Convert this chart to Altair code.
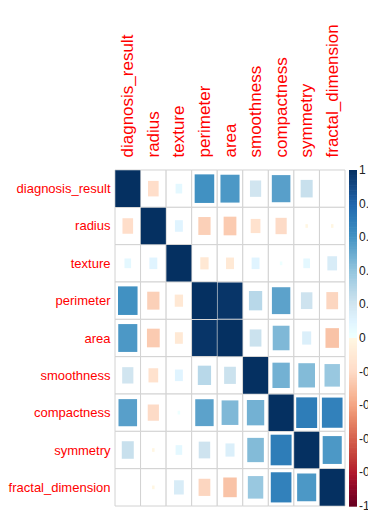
import altair as alt
import pandas as pd

FONT = "Liberation Sans"

variables = [
    "diagnosis_result", "radius", "texture", "perimeter", "area",
    "smoothness", "compactness", "symmetry", "fractal_dimension",
]

# Correlation matrix, one row per variable
diagnosis_result = [1.00, -0.18, 0.07, 0.61, 0.58, 0.20, 0.55, 0.23, 0.00]
radius = [-0.18, 1.00, 0.10, -0.24, -0.26, -0.15, -0.20, -0.01, -0.01]
texture = [0.07, 0.10, 1.00, -0.11, -0.10, 0.10, 0.01, 0.07, 0.15]
perimeter = [0.61, -0.24, -0.11, 1.00, 0.98, 0.28, 0.54, 0.21, -0.22]
area = [0.58, -0.26, -0.10, 0.98, 1.00, 0.22, 0.45, 0.13, -0.29]
smoothness = [0.20, -0.15, 0.10, 0.28, 0.22, 1.00, 0.48, 0.44, 0.38]
compactness = [0.55, -0.20, 0.01, 0.54, 0.45, 0.48, 1.00, 0.70, 0.68]
symmetry = [0.23, -0.01, 0.07, 0.21, 0.13, 0.44, 0.70, 1.00, 0.58]
fractal_dimension = [0.00, -0.01, 0.15, -0.22, -0.29, 0.38, 0.68, 0.58, 1.00]

matrix = [diagnosis_result, radius, texture, perimeter, area,
          smoothness, compactness, symmetry, fractal_dimension]

# Colour bar ticks
bar_values = [1, 0.8, 0.6, 0.4, 0.2, 0, -0.2, -0.4, -0.6, -0.8, -1]
bar_labels = ["1", "0.8", "0.6", "0.4", "0.2", "0", "-0.2", "-0.4", "-0.6", "-0.8", "-1"]

# RdBu diverging palette (red = -1, blue = +1)
palette = ["#67001F", "#B2182B", "#D6604D", "#F4A582", "#FDDBC7", "#FFFFFF",
           "#D1E5F0", "#92C5DE", "#4393C3", "#2166AC", "#053061"]
palette_stops = [-1, -0.8, -0.6, -0.4, -0.2, 0, 0.2, 0.4, 0.6, 0.8, 1]

records = []
for i, row in enumerate(matrix):
    for j, r in enumerate(row):
        records.append({"i": i, "j": j, "r": r})
cells = pd.DataFrame(records)
ticks = pd.DataFrame({"v": bar_values, "lab": bar_labels})

n = len(variables)
names_js = "[" + ",".join("'%s'" % v for v in variables) + "]"

xs = alt.Scale(domain=[0, 9.9], nice=False, zero=False)
ys = alt.Scale(domain=[-0.214, 9.08], nice=False, zero=False, reverse=True)
cs = alt.Scale(domain=palette_stops, range=palette, type="linear", clamp=True)

centers = [k + 0.5 for k in range(n)]

x_axis = alt.Axis(
    orient="top", values=centers, labelExpr=names_js + "[floor(datum.value)]",
    labelAngle=-90, labelColor="#FF0000", labelFont=FONT, labelFontSize=17,
    labelPadding=5, ticks=False, domain=False, grid=False, title=None,
    labelOverlap=False, labelFlush=False,
)
y_axis = alt.Axis(
    orient="left", values=centers, labelExpr=names_js + "[floor(datum.value)]",
    labelColor="#FF0000", labelFont=FONT, labelFontSize=13, labelPadding=5,
    ticks=False, domain=False, grid=False, title=None,
    labelOverlap=False, labelFlush=False,
)

X0 = alt.X("x0:Q", scale=xs, axis=x_axis)
Y0 = alt.Y("y0:Q", scale=ys, axis=y_axis)

# Cell grid
grid = alt.Chart(cells).transform_calculate(
    x0="datum.j", x1="datum.j + 1", y0="datum.i", y1="datum.i + 1"
).mark_rect(fill="white", stroke="#d2d2d2", strokeWidth=1).encode(
    x=X0, x2="x1:Q", y=Y0, y2="y1:Q",
)

# Squares whose area follows |r|
squares = alt.Chart(cells).transform_calculate(
    h="sqrt(abs(datum.r)) * 0.98"
).transform_calculate(
    x0="datum.j + 0.5 - datum.h / 2", x1="datum.j + 0.5 + datum.h / 2",
    y0="datum.i + 0.5 - datum.h / 2", y1="datum.i + 0.5 + datum.h / 2",
).mark_rect(strokeWidth=0).encode(
    x=X0, x2="x1:Q", y=Y0, y2="y1:Q",
    color=alt.Color("r:Q", scale=cs, legend=None),
)

# Colour bar on the right
bar = alt.Chart(alt.sequence(0, 200, as_="k")).transform_calculate(
    r="1 - (datum.k + 0.5) / 100",
    y0="datum.k * 0.045",
    y1="(datum.k + 1.4) * 0.045",
).mark_rect(strokeWidth=0).encode(
    x=alt.value(234),
    x2=alt.value(242),
    y=Y0,
    y2="y1:Q",
    color=alt.Color("r:Q", scale=cs, legend=None),
)

bar_text = alt.Chart(ticks).transform_calculate(
    y0="(1 - datum.v) * 4.5"
).mark_text(align="left", baseline="middle", font=FONT, fontSize=12,
            color="#222222").encode(
    x=alt.value(244),
    y=Y0,
    text="lab:N",
)

chart = alt.layer(grid, squares, bar, bar_text).properties(
    width=253,
    height=347,
    autosize=alt.AutoSizeParams(type="none"),
    padding={"left": 115, "top": 162, "right": 0, "bottom": 1},
    background="white",
).configure_view(stroke=None)

chart.save("out.html", embed_options={"renderer": "svg", "actions": False})
